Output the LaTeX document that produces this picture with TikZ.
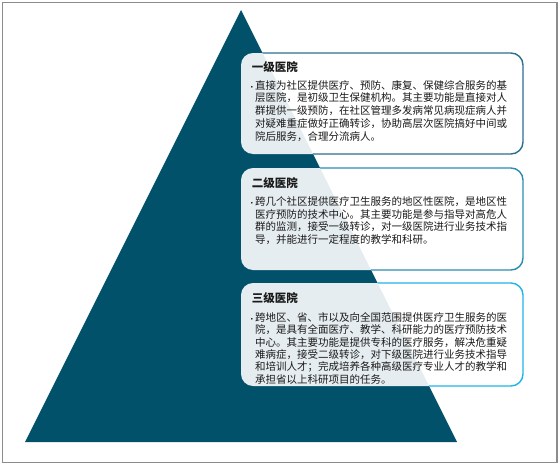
\documentclass[tikz,border=0pt]{standalone}
\usepackage{fontspec}
\setmainfont{Noto Sans CJK SC}
\newfontfamily\dv{DejaVu Sans}
\definecolor{tri}{HTML}{02516B}
\definecolor{bdA}{HTML}{2E6F8E}
\definecolor{bdB}{HTML}{2C8CB4}
\definecolor{bdC}{HTML}{21B4E6}
\definecolor{txt}{HTML}{1A1A1A}
\tikzset{
  boxfill/.style={fill=white,fill opacity=0.9,rounded corners=12pt,draw=none},
  boxline/.style={rounded corners=12pt,line width=1.4pt},
  ttl/.style={anchor=base west,inner sep=0pt,text=txt,font=\fontsize{11.5}{13}\selectfont\bfseries},
  body/.style={anchor=base west,inner sep=0pt,text=txt}
}
\newcommand{\bul}{\leavevmode\llap{\dv\fontsize{6}{6}\selectfont •\hspace{1.5pt}}}
\begin{document}
\begin{tikzpicture}[x=1pt,y=-1pt]
\useasboundingbox (0,0) rectangle (560,466);
\draw[color=gray!90,line width=1.2pt] (2.5,2.5) rectangle (557,462.5);
\coordinate (apex) at (241,10);
\coordinate (bl) at (25,442);
\coordinate (br) at (457,442);
\fill[tri] (apex) -- (bl) -- (br) -- cycle;
% box fills
\fill[boxfill] (241,53) rectangle (523,154);
\fill[boxfill] (241,168) rectangle (523,270);
\fill[boxfill] (241,283) rectangle (523,386);
% borders only outside the triangle
\begin{scope}
\clip (apex) -- (br) -- (560,466) -- (560,0) -- (241,0) -- cycle;
\draw[boxline,draw=bdA] (241,53) rectangle (523,154);
\draw[boxline,draw=bdB] (241,168) rectangle (523,270);
\draw[boxline,draw=bdC] (241,283) rectangle (523,386);
\end{scope}
% texts
\node[ttl] (t1) at (251.7,71) {一级医院};
\node[body] (b1) at (255,89) {\parbox[t]{262pt}{\fontsize{10.5}{12.9}\selectfont
\bul 直接为社区提供医疗、预防、康复、保健综合服务的基\\
层医院，是初级卫生保健机构。其主要功能是直接对人\\
群提供一级预防，在社区管理多发病常见病现症病人并\\
对疑难重症做好正确转诊，协助高层次医院搞好中间或\\
院后服务，合理分流病人。}};
\node[ttl] (t2) at (251.7,187.7) {二级医院};
\node[body] (b2) at (255,205.7) {\parbox[t]{262pt}{\fontsize{10.5}{12.6}\selectfont
\bul 跨几个社区提供医疗卫生服务的地区性医院，是地区性\\
医疗预防的技术中心。其主要功能是参与指导对高危人\\
群的监测，接受一级转诊，对一级医院进行业务技术指\\
导，并能进行一定程度的教学和科研。}};
\node[ttl] (t3) at (251.7,302.7) {三级医院};
\node[body] (b3) at (255,321.3) {\parbox[t]{262pt}{\fontsize{10.5}{12.4}\selectfont
\bul 跨地区、省、市以及向全国范围提供医疗卫生服务的医\\
院，是具有全面医疗、教学、科研能力的医疗预防技术\\
中心。其主要功能是提供专科的医疗服务，解决危重疑\\
难病症，接受二级转诊，对下级医院进行业务技术指导\\
和培训人才；完成培养各种高级医疗专业人才的教学和\\
承担省以上科研项目的任务。}};
\end{tikzpicture}
\end{document}
